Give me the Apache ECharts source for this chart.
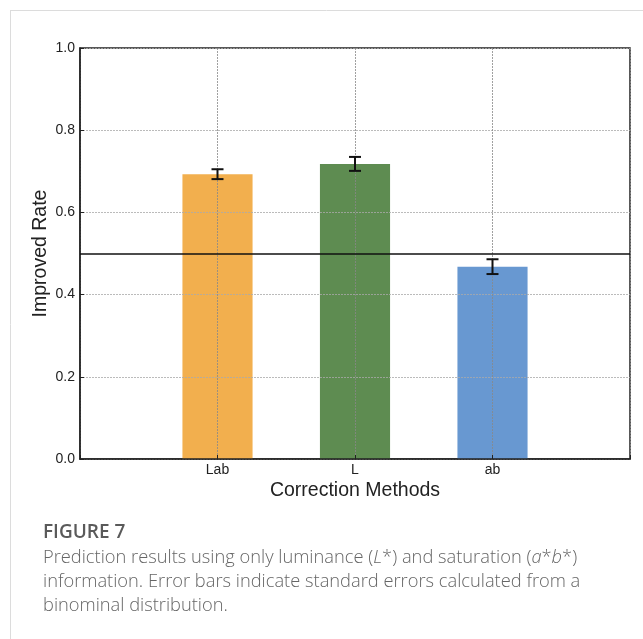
<!DOCTYPE html>
<html>
<head>
<meta charset="utf-8">
<script src="https://cdn.jsdelivr.net/npm/echarts@6/dist/echarts.min.js"></script>
<style>
  html, body { margin: 0; padding: 0; background: #fff; }
  #chart { width: 643px; height: 639px; }
</style>
</head>
<body>
<div id="chart"></div>
<script>
// Improved rate per correction method, with binomial standard errors
const categories = ['Lab', 'L', 'ab'];
const improvedRate = [0.693, 0.718, 0.468];
const standardError = [0.012, 0.017, 0.018];
const barColors = ['#F2AF4E', '#5E8C51', '#6898D1'];
const yTicks = [0, 0.2, 0.4, 0.6, 0.8, 1.0];
const chanceLevel = 0.5;

// pad the category axis with empty slots on both sides
const axisCategories = [''].concat(categories, ['']);
const barData = [null].concat(
  improvedRate.map((v, i) => ({ value: v, itemStyle: { color: barColors[i] } })),
  [null]
);
const errData = improvedRate.map((v, i) => [i + 1, v, standardError[i]]);

const chart = echarts.init(document.getElementById('chart'), null, { renderer: 'canvas' });

const FONT = '"Liberation Sans", Arial, sans-serif';

chart.setOption({
  animation: false,
  grid: {
    left: 80, right: 13, top: 48, bottom: 180,
    show: true, borderColor: '#222', borderWidth: 1.5, backgroundColor: 'transparent'
  },
  xAxis: {
    type: 'category',
    data: axisCategories,
    boundaryGap: false,
    z: 3,
    axisLine: { lineStyle: { color: '#222', width: 1.5 } },
    axisTick: { show: true, inside: true, length: 4, lineStyle: { color: '#222' } },
    axisLabel: { color: '#222', fontFamily: FONT, fontSize: 14, margin: 4 },
    splitLine: { show: true, lineStyle: { color: '#888', type: [2, 1], width: 0.8 } },
    name: 'Correction Methods',
    nameLocation: 'middle',
    nameGap: 22,
    nameMoveOverlap: false,
    nameTextStyle: { color: '#222', fontFamily: FONT, fontSize: 19.5 }
  },
  yAxis: {
    type: 'value',
    min: yTicks[0],
    max: yTicks[yTicks.length - 1],
    interval: 0.2,
    z: 3,
    axisLine: { show: true, lineStyle: { color: '#222', width: 1.5 } },
    axisTick: { show: true, inside: true, length: 4, lineStyle: { color: '#222' } },
    axisLabel: {
      color: '#222', fontFamily: FONT, fontSize: 14, margin: 5,
      formatter: v => v.toFixed(1)
    },
    splitLine: { show: true, lineStyle: { color: '#aaa', type: [2, 1], width: 0.8 } },
    name: 'Improved Rate',
    nameLocation: 'middle',
    nameGap: 29,
    nameMoveOverlap: false,
    nameTextStyle: { color: '#222', fontFamily: FONT, fontSize: 19.5 }
  },
  series: [
    {
      type: 'bar',
      data: barData,
      barWidth: '51%',
      z: 2,
      markLine: {
        silent: true,
        symbol: 'none',
        label: { show: false },
        lineStyle: { color: '#111', width: 1.5, type: 'solid' },
        data: [{ yAxis: chanceLevel }],
        z: 4
      }
    },
    {
      type: 'custom',
      z: 5,
      data: errData,
      renderItem: function (params, api) {
        const x = api.value(0);
        const v = api.value(1);
        const e = api.value(2);
        const hi = api.coord([x, v + e]);
        const lo = api.coord([x, v - e]);
        const half = 6;
        const style = { stroke: '#111', lineWidth: 2 };
        return {
          type: 'group',
          children: [
            { type: 'line', shape: { x1: hi[0], y1: hi[1], x2: lo[0], y2: lo[1] }, style },
            { type: 'line', shape: { x1: hi[0] - half, y1: hi[1], x2: hi[0] + half, y2: hi[1] }, style },
            { type: 'line', shape: { x1: lo[0] - half, y1: lo[1], x2: lo[0] + half, y2: lo[1] }, style }
          ]
        };
      }
    }
  ],
  graphic: [
    // card frame
    { type: 'line', shape: { x1: 10, y1: 10.5, x2: 643, y2: 10.5 }, style: { stroke: '#dcdcdc', lineWidth: 1 } },
    { type: 'line', shape: { x1: 10.5, y1: 10, x2: 10.5, y2: 639 }, style: { stroke: '#dcdcdc', lineWidth: 1 } },
    // caption
    {
      type: 'text', left: 43, top: 523,
      style: { text: 'FIGURE 7', fill: '#5a5a5a', font: '600 19px "Open Sans", sans-serif' }
    },
    {
      type: 'text', left: 43, top: 546,
      style: {
        text: '{n|Prediction results using only luminance (}{i|L}{n|*) and saturation (}{i|a}{n|*}{i|b}{n|*)}\n' +
              '{n|information. Error bars indicate standard errors calculated from a}\n' +
              '{n|binominal distribution.}',
        fill: '#666',
        lineHeight: 24,
        rich: {
          n: { font: '300 18.3px "Open Sans", sans-serif', fill: '#666', lineHeight: 24 },
          i: { font: 'italic 300 18.3px "Open Sans", sans-serif', fill: '#666', lineHeight: 24 }
        }
      }
    }
  ]
});
</script>
</body>
</html>
